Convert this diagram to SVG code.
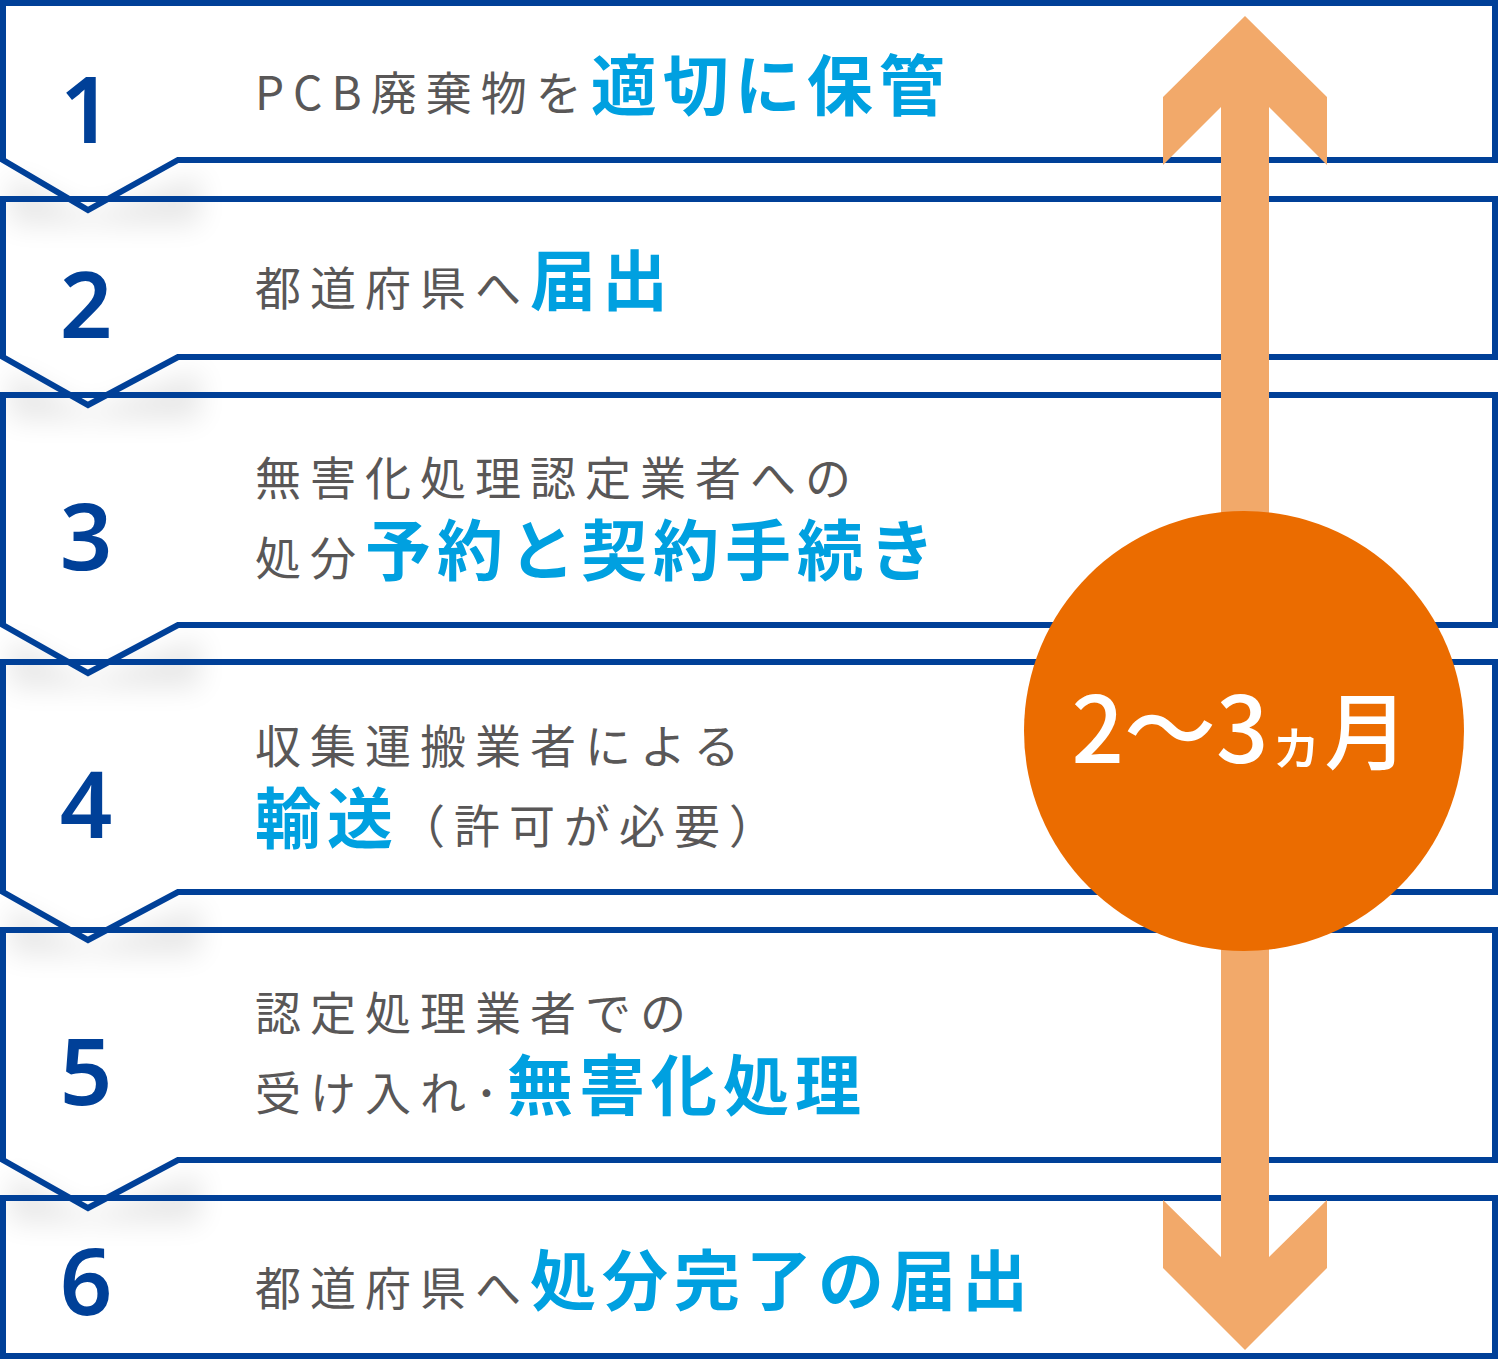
<svg xmlns="http://www.w3.org/2000/svg" width="1500" height="1360" viewBox="0 0 1500 1360">
<style>
.box{fill:none;stroke:#004098;stroke-width:6;stroke-linejoin:miter}
.num{font-family:"Noto Sans",sans-serif;font-weight:600;font-size:92px;fill:#004098;text-anchor:middle}
.g{font-family:"Noto Sans CJK JP",sans-serif;font-size:46px;fill:#595757;letter-spacing:9px}
.b{font-family:"Noto Sans CJK JP",sans-serif;font-weight:bold;font-size:66px;fill:#00a0e0;letter-spacing:6px}
</style>
<defs><filter id="sh" x="-50%" y="-50%" width="200%" height="200%"><feGaussianBlur stdDeviation="14"/></filter></defs>
<rect width="1500" height="1360" fill="#fff"/>
<g id="shadows" fill="#000" opacity="0.09" filter="url(#sh)">
<path d="M10,175 L88,215 L200,175 L200,225 L10,225Z"/>
<path d="M10,370 L88,412 L200,370 L200,420 L10,420Z"/>
<path d="M10,638 L88,680 L200,638 L200,688 L10,688Z"/>
<path d="M10,905 L88,947 L200,905 L200,955 L10,955Z"/>
<path d="M10,1173 L88,1215 L200,1173 L200,1223 L10,1223Z"/>
</g>
<g id="n1"><path class="box" d="M3,3 H1495 V160 H178 L88,210 L3,160 Z"/>
<text class="num" x="86" y="143">1</text>
<text x="255" y="110"><tspan class="g" letter-spacing="7">PCB廃棄物を</tspan><tspan class="b">適切に保管</tspan></text></g>
<g id="n2"><path class="box" d="M3,199 H1495 V357 H178 L88,405 L3,357 Z"/>
<text class="num" x="86" y="338">2</text>
<text x="255" y="305"><tspan class="g">都道府県へ</tspan><tspan class="b">届出</tspan></text></g>
<g id="n3"><path class="box" d="M3,395 H1495 V625 H178 L88,673 L3,625 Z"/>
<text class="num" x="86" y="570">3</text>
<text class="g" x="255" y="495" letter-spacing="10">無害化処理認定業者への</text>
<text x="255" y="575"><tspan class="g">処分</tspan><tspan class="b">予約と契約手続き</tspan></text></g>
<g id="n4"><path class="box" d="M3,662 H1495 V892 H178 L88,940 L3,892 Z"/>
<text class="num" x="86" y="838">4</text>
<text class="g" x="255" y="763">収集運搬業者による</text>
<text x="255" y="843"><tspan class="b" letter-spacing="2">輸送</tspan><tspan class="g" letter-spacing="2">（許可が必要）</tspan></text></g>
<g id="n5"><path class="box" d="M3,930 H1495 V1160 H178 L88,1208 L3,1160 Z"/>
<text class="num" x="86" y="1105">5</text>
<text class="g" x="255" y="1030">認定処理業者での</text>
<text x="255" y="1110"><tspan class="g" letter-spacing="7">受け入れ･</tspan><tspan class="b">無害化処理</tspan></text></g>
<g id="n6"><path class="box" d="M3,1198 H1495 V1356 H3 Z"/>
<text class="num" x="86" y="1315">6</text>
<text x="255" y="1305"><tspan class="g">都道府県へ</tspan><tspan class="b">処分完了の届出</tspan></text></g>
<g id="connectors">
<path fill="#f2a96a" d="M1245,16 L1327,97 L1327,165 L1269,107 L1269,1257 L1327,1200 L1327,1268 L1245,1350 L1163,1268 L1163,1200 L1221,1257 L1221,107 L1163,165 L1163,97 Z"/>
</g>
<g id="period">
<circle cx="1244" cy="731" r="220" fill="#eb6c00"/>
<text x="1240" y="763" fill="#fff" font-family="Noto Sans CJK JP,sans-serif" font-weight="500" text-anchor="middle"><tspan font-size="92">2〜3</tspan><tspan font-size="56">ヵ</tspan><tspan font-size="84">月</tspan></text>
</g>
</svg>
